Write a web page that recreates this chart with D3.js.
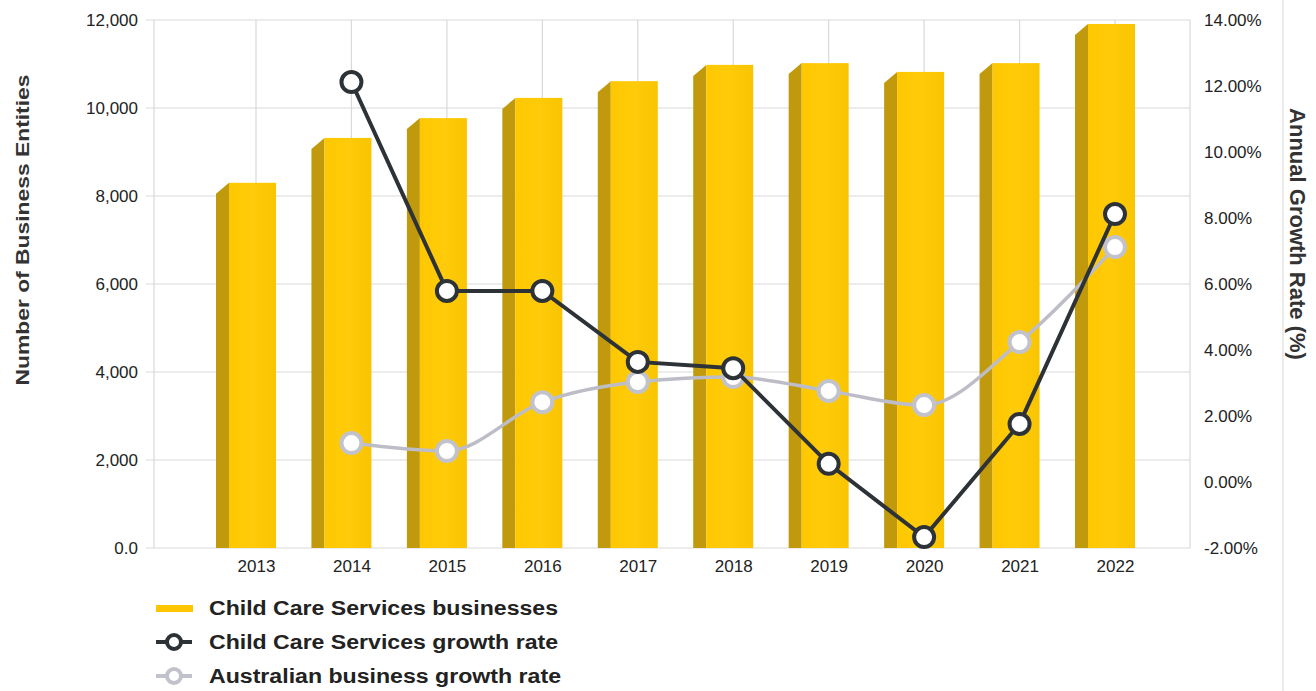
<!DOCTYPE html>
<html>
<head>
<meta charset="utf-8">
<script src="https://cdn.jsdelivr.net/npm/d3@7"></script>
<style>
  body { margin: 0; background: #fff; }
  svg { display: block; font-family: "Liberation Sans", Arial, sans-serif; }
  .tick text { fill: #222; font-size: 17px; }
  .grid line { stroke: #d9d9d9; stroke-width: 1.2; }
</style>
</head>
<body>
<svg id="chart" width="1316" height="691"></svg>
<script>
// values
const years = ["2013", "2014", "2015", "2016", "2017", "2018", "2019", "2020", "2021", "2022"];
const businesses = [8300, 9320, 9770, 10230, 10610, 10980, 11020, 10820, 11020, 11910];
const childCareGrowth = [null, 12.12, 5.79, 5.79, 3.64, 3.45, 0.55, -1.67, 1.76, 8.12];
const ausGrowth = [null, 1.18, 0.94, 2.42, 3.03, 3.18, 2.76, 2.33, 4.24, 7.12];
const leftTicks = [0, 2000, 4000, 6000, 8000, 10000, 12000];
const rightTicks = [-2, 0, 2, 4, 6, 8, 10, 12, 14];
const legendLabels = ["Child Care Services businesses", "Child Care Services growth rate", "Australian business growth rate"];

const svg = d3.select("#chart");
const plotLeft = 154, plotRight = 1190, plotTop = 20, plotBottom = 548;

const x = d3.scalePoint().domain(years).range([256, 1115]);
const y = d3.scaleLinear().domain([0, 12000]).range([plotBottom, plotTop]);
const y2 = d3.scaleLinear().domain([-2, 14]).range([plotBottom, plotTop]);

// light border on the right side of the picture
svg.append("line").attr("x1", 1283).attr("x2", 1283).attr("y1", 0).attr("y2", 691)
  .attr("stroke", "#e4e4e4").attr("stroke-width", 1.5);

// horizontal grid
svg.append("g").attr("class", "grid")
  .selectAll("line").data(leftTicks).join("line")
  .attr("x1", plotLeft - 8).attr("x2", plotRight)
  .attr("y1", d => y(d)).attr("y2", d => y(d));

// vertical grid
svg.append("g").attr("class", "grid")
  .selectAll("line").data([plotLeft].concat(years.map(d => x(d)), [plotRight])).join("line")
  .attr("x1", d => d).attr("x2", d => d)
  .attr("y1", plotTop).attr("y2", plotBottom);

// left axis
const yAxis = svg.append("g")
  .attr("transform", `translate(${plotLeft - 8},0)`)
  .call(d3.axisLeft(y).tickValues(leftTicks).tickSize(0).tickPadding(8)
    .tickFormat(d => d === 0 ? "0.0" : d3.format(",")(d)));
yAxis.select(".domain").remove();

// right axis
const y2Axis = svg.append("g")
  .attr("transform", `translate(${plotRight},0)`)
  .call(d3.axisRight(y2).tickValues(rightTicks).tickSize(0).tickPadding(14)
    .tickFormat(d => d.toFixed(2) + "%"));
y2Axis.select(".domain").remove();

// x axis labels
const xAxis = svg.append("g")
  .attr("transform", `translate(0,${plotBottom})`)
  .call(d3.axisBottom(x).tickSize(0).tickPadding(12));
xAxis.select(".domain").remove();

// 3d-looking bars
const grad = svg.append("defs").append("linearGradient").attr("id", "front")
  .attr("x1", "0%").attr("x2", "100%");
grad.append("stop").attr("offset", "0%").attr("stop-color", "#fec800");
grad.append("stop").attr("offset", "50%").attr("stop-color", "#ffcb0a");
grad.append("stop").attr("offset", "100%").attr("stop-color", "#f9c400");

const barData = years.map((yr, i) => ({ yr, v: businesses[i] }));
const depthX = 13, depthY = 11;
const bars = svg.append("g").selectAll("g").data(barData).join("g");
bars.append("path")
  .attr("fill", "#c09a0c")
  .attr("d", d => {
    const fx = x(d.yr) - 27, ty = y(d.v);
    return `M${fx},${ty}L${fx - depthX},${ty + depthY}L${fx - depthX},${plotBottom}L${fx},${plotBottom}Z`;
  });
bars.append("rect")
  .attr("x", d => x(d.yr) - 27)
  .attr("y", d => y(d.v))
  .attr("width", 47)
  .attr("height", d => plotBottom - y(d.v))
  .attr("fill", "url(#front)");

// growth lines
function drawSeries(values, color, width, markerStroke, curve) {
  const pts = years.map((yr, i) => ({ yr, v: values[i] })).filter(d => d.v !== null);
  const line = d3.line().x(d => x(d.yr)).y(d => y2(d.v)).curve(curve);
  svg.append("path").datum(pts)
    .attr("fill", "none").attr("stroke", color).attr("stroke-width", width)
    .attr("d", line);
  svg.append("g").selectAll("circle").data(pts).join("circle")
    .attr("cx", d => x(d.yr)).attr("cy", d => y2(d.v))
    .attr("r", 10).attr("fill", "#fff")
    .attr("stroke", markerStroke).attr("stroke-width", 4);
}
drawSeries(ausGrowth, "#bdbdc8", 3.5, "#c2c2cc", d3.curveMonotoneX);
drawSeries(childCareGrowth, "#2d3237", 4, "#2d3237", d3.curveLinear);

// axis titles
svg.append("text")
  .attr("transform", "translate(29,230) rotate(-90)")
  .attr("text-anchor", "middle")
  .attr("font-size", 19).attr("font-weight", "bold").attr("fill", "#333")
  .attr("textLength", 311).attr("lengthAdjust", "spacingAndGlyphs")
  .text("Number of Business Entities");
svg.append("text")
  .attr("transform", "translate(1290,234) rotate(90)")
  .attr("text-anchor", "middle")
  .attr("font-size", 22).attr("font-weight", "bold").attr("fill", "#333")
  .text("Annual Growth Rate (%)");

// legend
const legend = svg.append("g").attr("transform", "translate(156,608)");
const rows = legend.selectAll("g").data(legendLabels).join("g")
  .attr("transform", (d, i) => `translate(0,${i * 34})`);
rows.append("text")
  .attr("x", 53).attr("y", 7)
  .attr("font-size", 20).attr("font-weight", "bold").attr("fill", "#222")
  .attr("textLength", (d, i) => [349, 349, 352][i]).attr("lengthAdjust", "spacingAndGlyphs")
  .text(d => d);
rows.filter((d, i) => i === 0).append("rect")
  .attr("x", 0).attr("y", -3).attr("width", 37).attr("height", 7).attr("fill", "#fdc600");
rows.filter((d, i) => i > 0).each(function (d, i) {
  const g = d3.select(this);
  const c = i === 0 ? "#2d3237" : "#c2c2cc";
  g.append("line").attr("x1", 0).attr("x2", 36).attr("y1", 0).attr("y2", 0)
    .attr("stroke", c).attr("stroke-width", 4);
  g.append("circle").attr("cx", 18).attr("cy", 0).attr("r", 7)
    .attr("fill", "#fff").attr("stroke", c).attr("stroke-width", 4);
});
</script>
</body>
</html>
